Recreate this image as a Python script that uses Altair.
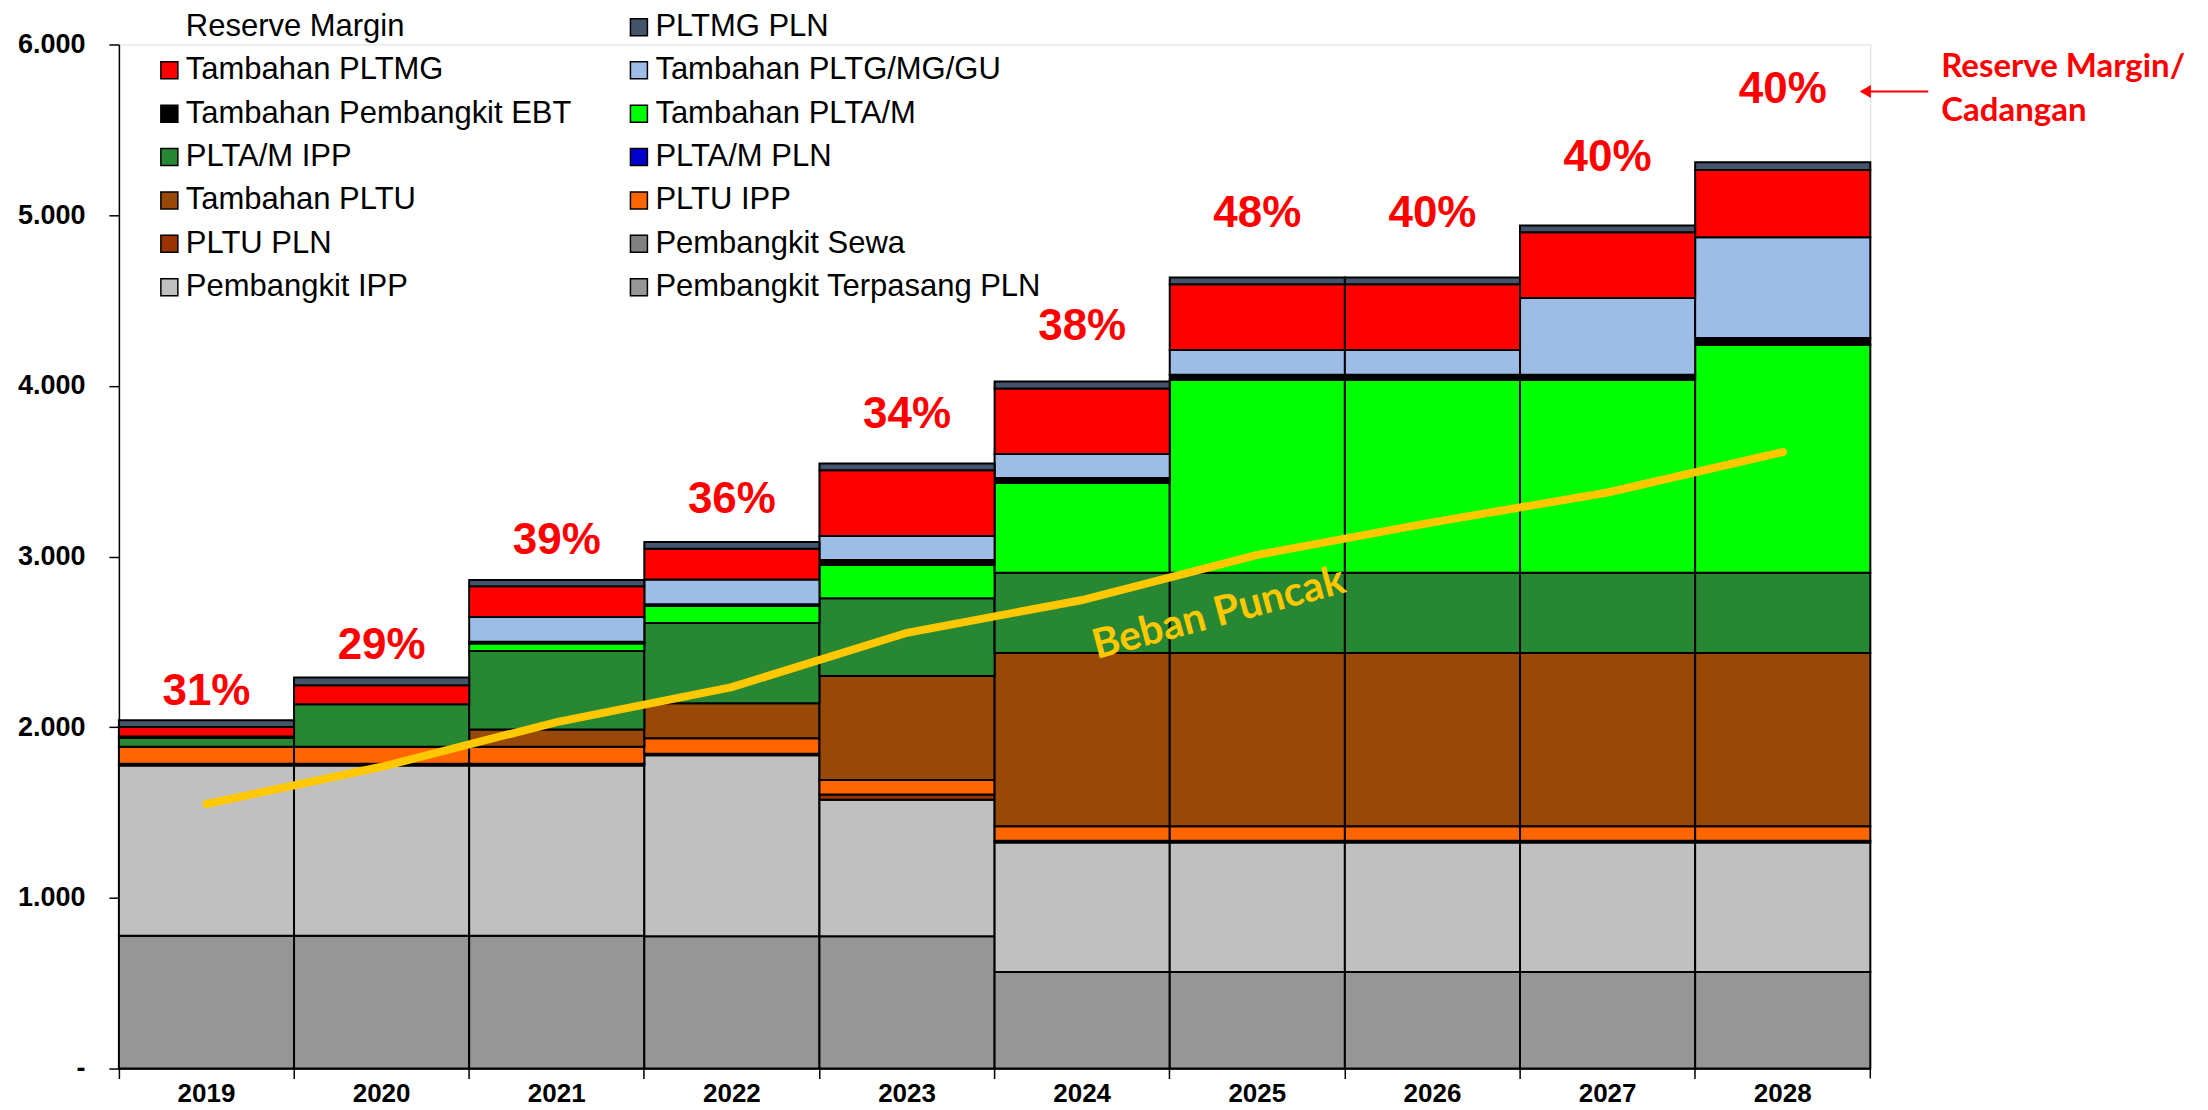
import altair as alt
import pandas as pd

years = ["2019", "2020", "2021", "2022", "2023", "2024", "2025", "2026", "2027", "2028"]

# stacked components (MW), bottom to top
terpasang_pln  = [778, 778, 778, 775, 775, 565, 565, 565, 565, 565]
pembangkit_ipp = [998, 998, 998, 1060, 800, 760, 760, 760, 760, 760]
pembangkit_sewa = [0, 0, 0, 0, 0, 0, 0, 0, 0, 0]
pltu_pln       = [10, 10, 10, 10, 30, 10, 10, 10, 10, 10]
pltu_ipp       = [100, 100, 100, 90, 85, 85, 85, 85, 85, 85]
tambahan_pltu  = [0, 0, 100, 205, 610, 1015, 1015, 1015, 1015, 1015]
plta_pln       = [0, 0, 0, 0, 0, 0, 0, 0, 0, 0]
plta_ipp       = [50, 248, 460, 470, 455, 470, 470, 470, 470, 470]
tambahan_plta  = [0, 0, 45, 100, 195, 525, 1130, 1130, 1130, 1335]
tambahan_ebt   = [10, 0, 10, 10, 30, 30, 30, 30, 30, 40]
tambahan_pltg  = [0, 0, 145, 145, 140, 140, 145, 145, 450, 590]
tambahan_pltmg = [55, 112, 180, 180, 385, 385, 385, 385, 385, 395]
pltmg_pln      = [40, 45, 36, 40, 40, 40, 40, 40, 40, 45]

beban_puncak = [1550, 1768, 2030, 2235, 2553, 2745, 3010, 3200, 3375, 3612]
reserve_margin = ["31%", "29%", "39%", "36%", "34%", "38%", "48%", "40%", "40%", "40%"]

# legend entries listed column by column (left column, then right column)
legend_order = [
    "Reserve Margin", "Tambahan PLTMG", "Tambahan Pembangkit EBT", "PLTA/M IPP",
    "Tambahan PLTU", "PLTU PLN", "Pembangkit IPP",
    "PLTMG PLN", "Tambahan PLTG/MG/GU", "Tambahan PLTA/M", "PLTA/M PLN",
    "PLTU IPP", "Pembangkit Sewa", "Pembangkit Terpasang PLN",
]
legend_colors = [
    "#FFFFFF", "#FF0000", "#000000", "#278733",
    "#984807", "#993300", "#C0C0C0",
    "#44546A", "#9DBDE6", "#00FF00", "#0000CC",
    "#FF6600", "#808080", "#969696",
]
legend_strokes = ["transparent"] + ["#000000"] * 13

series = {
    "Pembangkit Terpasang PLN": terpasang_pln,
    "Pembangkit IPP": pembangkit_ipp,
    "Pembangkit Sewa": pembangkit_sewa,
    "PLTU PLN": pltu_pln,
    "PLTU IPP": pltu_ipp,
    "Tambahan PLTU": tambahan_pltu,
    "PLTA/M PLN": plta_pln,
    "PLTA/M IPP": plta_ipp,
    "Tambahan PLTA/M": tambahan_plta,
    "Tambahan Pembangkit EBT": tambahan_ebt,
    "Tambahan PLTG/MG/GU": tambahan_pltg,
    "Tambahan PLTMG": tambahan_pltmg,
    "PLTMG PLN": pltmg_pln,
}

rows = []
for k, (name, vals) in enumerate(series.items()):
    for y, v in zip(years, vals):
        if v > 0:
            rows.append({"year": y, "series": name, "value": v, "ord": k})
bars_df = pd.DataFrame(rows)

totals = [sum(vals[i] for vals in series.values()) for i in range(len(years))]
top_df = pd.DataFrame({"year": years, "total": totals, "rm": reserve_margin, "beban": beban_puncak})

W, H = 1753, 1025

x_enc = alt.X(
    "year:N",
    sort=years,
    scale=alt.Scale(paddingInner=0, paddingOuter=0),
    axis=alt.Axis(
        title=None, bandPosition=0, tickSize=10, labelPadding=2, labelAngle=0,
        labelFontSize=26, labelFontWeight="bold", labelFont="Liberation Sans",
        labelColor="black", domainColor="black", tickColor="black",
        domainWidth=1.5, tickWidth=1.5,
    ),
)
y_scale = alt.Scale(domain=[0, 6000], nice=False)
y_axis = alt.Axis(
    title=None, values=[0, 1000, 2000, 3000, 4000, 5000, 6000], grid=False,
    labelExpr="datum.value == 0 ? '-' : replace(format(datum.value, ','), ',', '.')",
    tickSize=10, labelPadding=24, labelFontSize=27, labelFontWeight="bold",
    labelFont="Liberation Sans", labelColor="black", domainColor="black",
    tickColor="black", domainWidth=1.5, tickWidth=1.5,
)

legend = alt.Legend(
    orient="none", legendX=35, legendY=-33, columns=2, columnPadding=52,
    rowPadding=11.4, symbolType="square", symbolSize=289, symbolStrokeWidth=1.5,
    labelFontSize=31, labelFont="Liberation Sans", labelColor="black",
    labelOffset=1, title=None, padding=0, labelLimit=700,
)

bars = alt.Chart(bars_df).mark_bar(strokeWidth=2, opacity=1).encode(
    x=x_enc,
    y=alt.Y("value:Q", stack="zero", scale=y_scale, axis=y_axis),
    color=alt.Color("series:N", scale=alt.Scale(domain=legend_order, range=legend_colors), legend=legend),
    stroke=alt.Stroke("series:N", scale=alt.Scale(domain=legend_order, range=legend_strokes), legend=legend),
    order=alt.Order("ord:Q"),
)

line = alt.Chart(top_df).mark_line(color="#FFC800", strokeWidth=8, strokeCap="round").encode(
    x=alt.X("year:N", sort=years),
    y=alt.Y("beban:Q", scale=y_scale, axis=y_axis),
)

rm_text = alt.Chart(top_df).transform_calculate(
    label_y="datum.total * 1.08"
).mark_text(
    color="#FF0000", font="Liberation Sans", fontWeight="bold", fontSize=44,
    baseline="middle",
).encode(
    x=alt.X("year:N", sort=years),
    y=alt.Y("label_y:Q", scale=y_scale, axis=y_axis),
    text="rm:N",
)

one = pd.DataFrame({"a": [0]})
beban_label = alt.Chart(one).mark_text(
    text="Beban Puncak", color="#FFC800", font="Lato", fontWeight="bold",
    fontSize=41, angle=345, align="center", baseline="middle",
).encode(x=alt.value(1101), y=alt.value(570))

rm_note1 = alt.Chart(one).mark_text(
    text="Reserve Margin/", color="#FF0000", font="Lato", fontWeight="bold",
    fontSize=33, align="left", baseline="middle",
).encode(x=alt.value(1824), y=alt.value(23))
rm_note2 = alt.Chart(one).mark_text(
    text="Cadangan", color="#FF0000", font="Lato", fontWeight="bold",
    fontSize=33, align="left", baseline="middle",
).encode(x=alt.value(1824), y=alt.value(67))

arrow_line = alt.Chart(one).mark_rule(color="#FF0000", strokeWidth=2).encode(
    x=alt.value(1745), x2=alt.value(1811), y=alt.value(47), y2=alt.value(47)
)
arrow_head = alt.Chart(one).mark_point(
    shape="triangle-left", filled=True, color="#FF0000", size=170, opacity=1
).encode(x=alt.value(1748), y=alt.value(47))

end_tick = alt.Chart(one).mark_rule(color="black", strokeWidth=1.5).encode(
    x=alt.value(W), y=alt.value(H), y2=alt.value(H + 10)
)

chart = alt.layer(
    bars, line, rm_text, beban_label, rm_note1, rm_note2, arrow_line, arrow_head, end_tick
).properties(
    width=W, height=H,
    autosize=alt.AutoSizeParams(type="none"),
    padding={"left": 111, "top": 36, "right": 330, "bottom": 40},
).configure_view(stroke=None).configure(background="white")

chart.save("out.html", embed_options={"renderer": "svg", "actions": False})
